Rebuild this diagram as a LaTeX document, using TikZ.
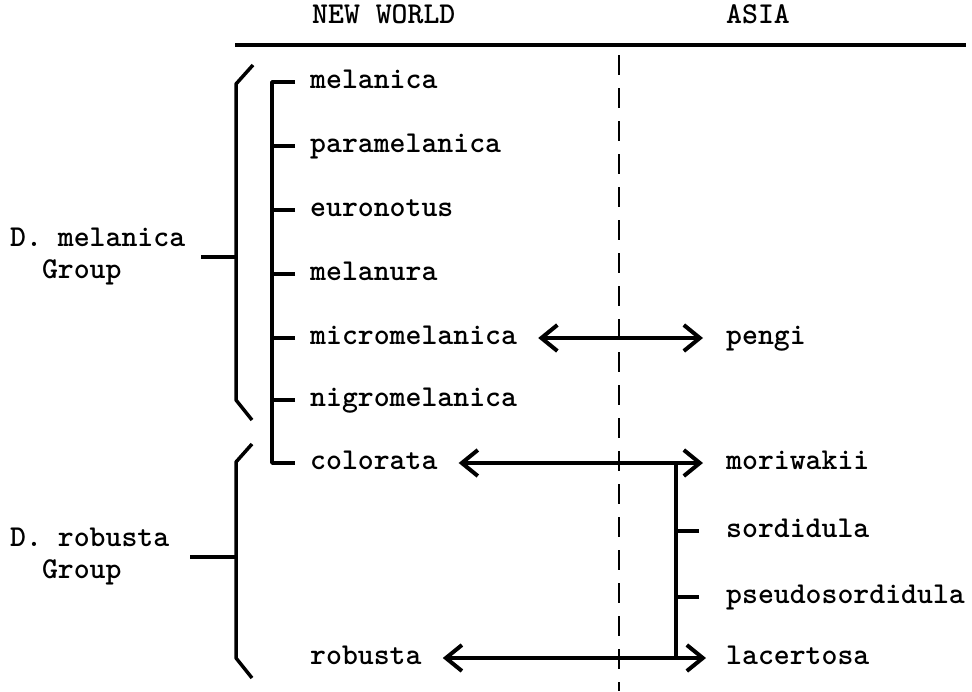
\documentclass[tikz,border=0pt]{standalone}
\usetikzlibrary{arrows.meta}
\begin{document}
\begin{tikzpicture}[x=1pt,y=-1pt,
  txt/.style={font=\ttfamily\bfseries\fontsize{30.3}{32}\selectfont},
  lbl/.style={txt, anchor=west, inner sep=0pt, text height=13pt, text depth=0pt},
  grp/.style={txt, anchor=west, inner sep=0pt, align=left},
  ln/.style={line width=3.5pt, line join=round},
  both/.style={line width=4pt, {Straight Barb[length=16pt,width=26pt]}-{Straight Barb[length=16pt,width=26pt]}},
  dashline/.style={line width=2.5pt, dash pattern=on 20pt off 13pt}]
\useasboundingbox (0,0) rectangle (972,691);

% headings
\node[lbl] (nw) at (312,17) {NEW WORLD};
\node[lbl] (as) at (726,17) {ASIA};
\draw[ln] (235,45) -- (966,45);
\draw[dashline] (619,55) -- (619,691);

% New World species
\node[lbl] (melanica) at (310,82) {melanica};
\node[lbl] (paramelanica) at (310,146) {paramelanica};
\node[lbl] (euronotus) at (310,210) {euronotus};
\node[lbl] (melanura) at (310,274) {melanura};
\node[lbl] (micromelanica) at (310,338) {micromelanica};
\node[lbl] (nigromelanica) at (310,400) {nigromelanica};
\node[lbl] (colorata) at (310,463) {colorata};
\node[lbl] (robusta) at (310,658) {robusta};

% Asian species
\node[lbl] (pengi) at (726,338) {pengi};
\node[lbl] (moriwakii) at (726,463) {moriwakii};
\node[lbl] (sordidula) at (726,531) {sordidula};
\node[lbl] (pseudosordidula) at (726,597) {pseudosordidula};
\node[lbl] (lacertosa) at (726,658) {lacertosa};

% group labels
\node[grp] (mgrp) at (10,257) {D. melanica\\\phantom{D.}Group};
\node[grp] (rgrp) at (10,557) {D. robusta\\\phantom{D.}Group};

% brackets
\coordinate (mb) at (236,257);
\coordinate (rb) at (236,557);
\draw[ln] (253,65) -- (236,84) -- (236,400) -- (252,420);
\draw[ln] (252,444) -- (236,462) -- (236,658) -- (252,678);
\draw[ln] ([xshift=16pt]mgrp.east) -- (mgrp.east -| mb);
\draw[ln] ([xshift=21pt]rgrp.east) -- (rgrp.east -| rb);

% New World tree
\draw[ln] ([xshift=-15pt]melanica.west) -- ++(-23,0) |- ([xshift=-15pt]colorata.west);
\foreach \n in {paramelanica,euronotus,melanura,micromelanica,nigromelanica}
  \draw[ln] ([xshift=-15pt]\n.west) -- ++(-23,0);

% Asian tree
\coordinate (at) at (676,463);
\draw[ln] (moriwakii.west -| at) -- (lacertosa.west -| at);
\draw[ln] ([xshift=-27pt]sordidula.west) -- (sordidula.west -| at);
\draw[ln] ([xshift=-27pt]pseudosordidula.west) -- (pseudosordidula.west -| at);

% connections
\draw[both] ([xshift=21pt]micromelanica.east) -- ([xshift=-23pt]pengi.west);
\draw[both] ([xshift=21pt]colorata.east) -- ([xshift=-23pt]moriwakii.west);
\draw[both] ([xshift=21pt]robusta.east) -- ([xshift=-20pt]lacertosa.west);
\end{tikzpicture}
\end{document}
